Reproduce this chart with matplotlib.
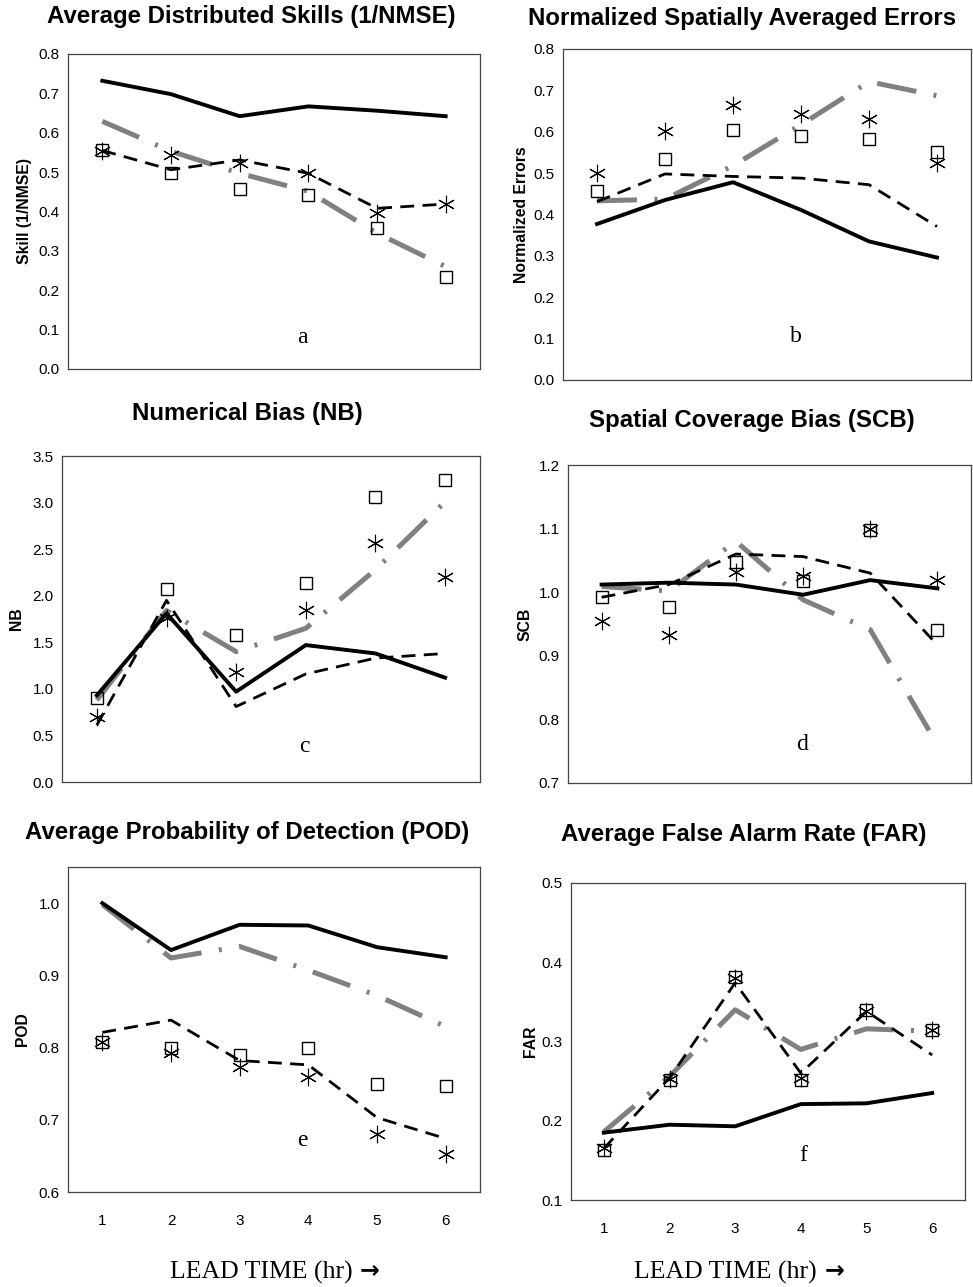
import matplotlib
matplotlib.use("Agg")
import matplotlib.pyplot as plt

W, H = 973, 1287
lead = [1, 2, 3, 4, 5, 6]
tick_labels = ["1", "2", "3", "4", "5", "6"]

# Panel a: Average Distributed Skills (1/NMSE)
a_solid = [0.732, 0.698, 0.642, 0.667, 0.656, 0.642]
a_dashdot = [0.629, 0.553, 0.497, 0.451, 0.345, 0.260]
a_dashed = [0.555, 0.506, 0.531, 0.497, 0.408, 0.419]
a_square = [0.555, 0.499, 0.458, 0.442, 0.359, 0.233]
a_star = [0.553, 0.544, 0.523, 0.497, 0.396, 0.419]

# Panel b: Normalized Spatially Averaged Errors
b_solid = [0.377, 0.435, 0.478, 0.411, 0.335, 0.296]
b_dashdot = [0.433, 0.437, 0.518, 0.617, 0.721, 0.687]
b_dashed = [0.431, 0.498, 0.492, 0.488, 0.472, 0.371]
b_square = [0.456, 0.535, 0.605, 0.590, 0.582, 0.551]
b_star = [0.500, 0.602, 0.664, 0.642, 0.631, 0.524]

# Panel c: Numerical Bias (NB)
c_solid = [0.93, 1.81, 0.97, 1.47, 1.38, 1.12]
c_dashdot = [0.88, 1.84, 1.40, 1.65, 2.28, 3.01]
c_dashed = [0.61, 1.95, 0.81, 1.16, 1.33, 1.38]
c_square = [0.90, 2.07, 1.58, 2.14, 3.06, 3.24]
c_star = [0.70, 1.76, 1.18, 1.85, 2.57, 2.20]

# Panel d: Spatial Coverage Bias (SCB)
d_solid = [1.012, 1.015, 1.012, 0.996, 1.019, 1.006]
d_dashdot = [1.009, 1.002, 1.080, 0.988, 0.941, 0.760]
d_dashed = [0.992, 1.012, 1.060, 1.056, 1.030, 0.917]
d_square = [0.993, 0.977, 1.048, 1.017, 1.098, 0.941]
d_star = [0.954, 0.933, 1.032, 1.025, 1.100, 1.019]

# Panel e: Average Probability of Detection (POD)
e_solid = [1.000, 0.935, 0.970, 0.969, 0.939, 0.925]
e_dashdot = [0.998, 0.924, 0.940, 0.907, 0.872, 0.829]
e_dashed = [0.821, 0.838, 0.782, 0.776, 0.703, 0.674]
e_square = [0.808, 0.799, 0.790, 0.799, 0.749, 0.747]
e_star = [0.808, 0.792, 0.773, 0.759, 0.681, 0.653]

# Panel f: Average False Alarm Rate (FAR)
f_solid = [0.185, 0.195, 0.193, 0.221, 0.222, 0.235]
f_dashdot = [0.186, 0.256, 0.340, 0.290, 0.316, 0.313]
f_dashed = [0.165, 0.254, 0.374, 0.260, 0.338, 0.283]
f_square = [0.163, 0.251, 0.382, 0.252, 0.340, 0.314]
f_star = [0.165, 0.253, 0.380, 0.254, 0.338, 0.314]

titles = ["Average Distributed Skills (1/NMSE)", "Normalized Spatially Averaged Errors",
          "Numerical Bias (NB)", "Spatial Coverage Bias (SCB)",
          "Average Probability of Detection (POD)", "Average False Alarm Rate (FAR)"]
ylabels = ["Skill (1/NMSE)", "Normalized Errors", "NB", "SCB", "POD", "FAR"]
letters = ["a", "b", "c", "d", "e", "f"]
xlabel = "LEAD TIME (hr)"
arrow = "\u2192"

panels = [
    (a_solid, a_dashdot, a_dashed, a_square, a_star),
    (b_solid, b_dashdot, b_dashed, b_square, b_star),
    (c_solid, c_dashdot, c_dashed, c_square, c_star),
    (d_solid, d_dashdot, d_dashed, d_square, d_star),
    (e_solid, e_dashdot, e_dashed, e_square, e_star),
    (f_solid, f_dashdot, f_dashed, f_square, f_star),
]

# layout in pixels: left, right, top, bottom
boxes = [(68, 480, 54, 369), (563, 971, 49, 380),
         (62, 480, 456, 782), (568, 971, 465, 783),
         (68, 480, 867, 1192), (571, 965, 883, 1200)]
ylims = [(0, 0.8), (0, 0.8), (0, 3.5), (0.7, 1.2), (0.6, 1.05), (0.1, 0.5)]
yticks = [[0, .1, .2, .3, .4, .5, .6, .7, .8], [0, .1, .2, .3, .4, .5, .6, .7, .8],
          [0, .5, 1, 1.5, 2, 2.5, 3, 3.5], [.7, .8, .9, 1.0, 1.1, 1.2],
          [.6, .7, .8, .9, 1.0], [.1, .2, .3, .4, .5]]
title_pos = [(251, 16), (742, 18), (247, 413), (752, 420), (247, 833), (744, 835)]
ylabel_x = [25, 522, 17, 525, 23, 530]
letter_pos = [(0.57, 0.10), (0.57, 0.13), (0.58, 0.11), (0.58, 0.12), (0.57, 0.16), (0.59, 0.14)]

sans = ["Liberation Sans", "DejaVu Sans"]
serif = ["Liberation Serif", "DejaVu Serif"]

fig = plt.figure(figsize=(W / 100, H / 100), dpi=100)

for i, (data, box) in enumerate(zip(panels, boxes)):
    l, r, t, b = box
    ax = fig.add_axes([l / W, 1 - b / H, (r - l) / W, (b - t) / H])
    solid, dashdot, dashed, square, star = data
    ax.plot(lead, dashdot, color="#808080", lw=3.6, ls=(0, (8, 3.5, 0.6, 3.5)), zorder=2)
    ax.plot(lead, dashed, color="black", lw=2.0, ls=(0, (5, 3)), zorder=3)
    ax.plot(lead, solid, color="black", lw=2.8, ls="-", zorder=4)
    ax.plot(lead, square, ls="none", marker="s", ms=9, mfc="none", mec="black", mew=1.0, zorder=5)
    ax.plot(lead, star, ls="none", marker=(6, 2, 0), ms=12.5, mec="black", mew=0.8, zorder=5)
    ax.set_xlim(0.5, 6.5)
    ax.set_ylim(*ylims[i])
    ax.set_yticks(yticks[i])
    ax.set_yticklabels(["%.1f" % v for v in yticks[i]], family=sans, fontsize=11)
    ax.tick_params(axis="y", length=0, pad=6)
    if i >= 4:
        ax.set_xticks(lead)
        ax.set_xticklabels(tick_labels, family=sans, fontsize=11)
        ax.tick_params(axis="x", length=0, pad=16)
    else:
        ax.set_xticks([])
    for s in ax.spines.values():
        s.set_linewidth(0.9)
        s.set_color("#444444")
    ax.text(letter_pos[i][0], letter_pos[i][1], letters[i], transform=ax.transAxes,
            family=serif, fontsize=17, ha="center", va="center")
    fig.text(title_pos[i][0] / W, 1 - title_pos[i][1] / H, titles[i], family=sans,
             fontweight="bold", fontsize=17.3, ha="center", va="center")
    fig.text(ylabel_x[i] / W, 1 - ((t + b) / 2) / H, ylabels[i], family=sans,
             fontweight="bold", fontsize=11.3, rotation=90, ha="center", va="center")

for cx, ax_ in [(261, 370), (725, 835)]:
    fig.text(cx / W, 1 - 1272 / H, xlabel, family=serif, fontsize=18.5, ha="center", va="center")
    fig.text(ax_ / W, 1 - 1270 / H, arrow, family=["DejaVu Sans"], fontweight="bold",
             fontsize=17, ha="center", va="center")

fig.savefig("out.png", dpi=100)
